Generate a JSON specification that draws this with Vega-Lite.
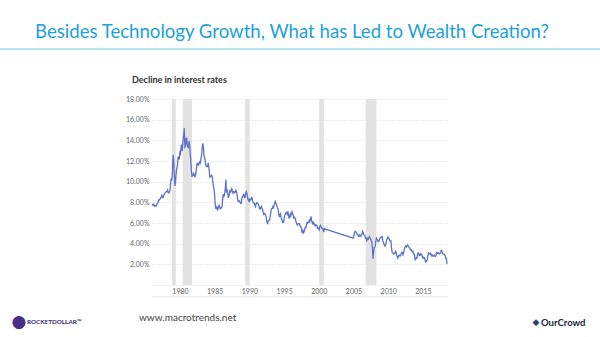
{
  "$schema": "https://vega.github.io/schema/vega-lite/v6.json",
  "autosize": "none",
  "width": 296,
  "height": 186,
  "padding": {"left": 152, "top": 99, "right": 152, "bottom": 52},
  "background": "white",
  "config": {"view": {"stroke": null}, "font": "Lato"},
  "datasets": {
    "rates": [
      {"year":1977.12,"rate":7.75},{"year":1977.21,"rate":7.80},{"year":1977.29,"rate":7.73},{"year":1977.37,"rate":7.80},{"year":1977.46,"rate":7.64},{"year":1977.54,"rate":7.64},{"year":1977.62,"rate":7.68},{"year":1977.71,"rate":7.64},{"year":1977.79,"rate":7.77},{"year":1977.87,"rate":7.85},{"year":1977.96,"rate":7.94},
      {"year":1978.04,"rate":8.18},{"year":1978.12,"rate":8.25},{"year":1978.21,"rate":8.23},{"year":1978.29,"rate":8.34},{"year":1978.37,"rate":8.43},{"year":1978.46,"rate":8.50},{"year":1978.54,"rate":8.65},{"year":1978.62,"rate":8.47},{"year":1978.71,"rate":8.47},{"year":1978.79,"rate":8.69},{"year":1978.87,"rate":8.75},{"year":1978.96,"rate":8.88},
      {"year":1979.04,"rate":8.94},{"year":1979.12,"rate":9.00},{"year":1979.21,"rate":9.03},{"year":1979.29,"rate":9.08},{"year":1979.37,"rate":9.19},{"year":1979.46,"rate":8.92},{"year":1979.54,"rate":8.92},{"year":1979.62,"rate":8.97},{"year":1979.71,"rate":9.17},{"year":1979.79,"rate":9.85},{"year":1979.87,"rate":10.30},{"year":1979.96,"rate":10.12},
      {"year":1980.04,"rate":10.60},{"year":1980.12,"rate":12.20},{"year":1980.18,"rate":12.60},{"year":1980.25,"rate":11.90},{"year":1980.29,"rate":11.40},{"year":1980.37,"rate":10.36},{"year":1980.44,"rate":9.60},{"year":1980.50,"rate":9.90},{"year":1980.54,"rate":10.24},{"year":1980.62,"rate":11.00},{"year":1980.71,"rate":11.34},{"year":1980.79,"rate":11.59},{"year":1980.87,"rate":12.37},{"year":1980.96,"rate":12.40},
      {"year":1981.04,"rate":12.14},{"year":1981.12,"rate":12.80},{"year":1981.21,"rate":12.69},{"year":1981.29,"rate":13.20},{"year":1981.37,"rate":13.60},{"year":1981.46,"rate":12.96},{"year":1981.54,"rate":13.59},{"year":1981.62,"rate":14.17},{"year":1981.71,"rate":14.67},{"year":1981.76,"rate":15.20},{"year":1981.79,"rate":14.68},{"year":1981.87,"rate":13.35},{"year":1981.96,"rate":13.45},
      {"year":1982.04,"rate":14.22},{"year":1982.12,"rate":14.22},{"year":1982.21,"rate":13.53},{"year":1982.29,"rate":13.37},{"year":1982.37,"rate":13.24},{"year":1982.46,"rate":13.92},{"year":1982.54,"rate":13.55},{"year":1982.62,"rate":12.77},{"year":1982.71,"rate":12.07},{"year":1982.79,"rate":11.17},{"year":1982.87,"rate":10.54},{"year":1982.96,"rate":10.54},
      {"year":1983.04,"rate":10.63},{"year":1983.12,"rate":10.88},{"year":1983.21,"rate":10.63},{"year":1983.29,"rate":10.48},{"year":1983.37,"rate":10.53},{"year":1983.46,"rate":10.93},{"year":1983.54,"rate":11.40},{"year":1983.62,"rate":11.82},{"year":1983.71,"rate":11.63},{"year":1983.79,"rate":11.58},{"year":1983.87,"rate":11.75},{"year":1983.96,"rate":11.88},
      {"year":1984.04,"rate":11.75},{"year":1984.12,"rate":11.95},{"year":1984.21,"rate":12.38},{"year":1984.29,"rate":12.65},{"year":1984.37,"rate":13.43},{"year":1984.46,"rate":13.70},{"year":1984.54,"rate":13.21},{"year":1984.62,"rate":12.54},{"year":1984.71,"rate":12.29},{"year":1984.79,"rate":11.98},{"year":1984.87,"rate":11.56},{"year":1984.96,"rate":11.52},
      {"year":1985.04,"rate":11.45},{"year":1985.12,"rate":11.47},{"year":1985.21,"rate":11.81},{"year":1985.29,"rate":11.47},{"year":1985.37,"rate":11.05},{"year":1985.46,"rate":10.44},{"year":1985.54,"rate":10.50},{"year":1985.62,"rate":10.56},{"year":1985.71,"rate":10.61},{"year":1985.79,"rate":10.50},{"year":1985.87,"rate":10.06},{"year":1985.96,"rate":9.54},
      {"year":1986.04,"rate":9.40},{"year":1986.12,"rate":8.93},{"year":1986.21,"rate":7.96},{"year":1986.29,"rate":7.39},{"year":1986.37,"rate":7.52},{"year":1986.46,"rate":7.57},{"year":1986.54,"rate":7.27},{"year":1986.62,"rate":7.33},{"year":1986.71,"rate":7.62},{"year":1986.79,"rate":7.70},{"year":1986.87,"rate":7.52},{"year":1986.96,"rate":7.37},
      {"year":1987.04,"rate":7.39},{"year":1987.12,"rate":7.54},{"year":1987.21,"rate":7.55},{"year":1987.29,"rate":8.25},{"year":1987.37,"rate":8.78},{"year":1987.46,"rate":8.57},{"year":1987.54,"rate":8.64},{"year":1987.62,"rate":8.97},{"year":1987.71,"rate":9.59},{"year":1987.78,"rate":10.20},{"year":1987.82,"rate":9.20},{"year":1987.87,"rate":8.95},{"year":1987.96,"rate":9.12},
      {"year":1988.04,"rate":8.83},{"year":1988.12,"rate":8.43},{"year":1988.21,"rate":8.63},{"year":1988.29,"rate":8.95},{"year":1988.37,"rate":9.23},{"year":1988.46,"rate":9.00},{"year":1988.54,"rate":9.14},{"year":1988.62,"rate":9.32},{"year":1988.71,"rate":9.06},{"year":1988.79,"rate":8.89},{"year":1988.87,"rate":9.02},{"year":1988.96,"rate":9.01},
      {"year":1989.04,"rate":8.93},{"year":1989.12,"rate":9.01},{"year":1989.21,"rate":9.17},{"year":1989.29,"rate":9.03},{"year":1989.37,"rate":8.83},{"year":1989.46,"rate":8.27},{"year":1989.54,"rate":8.08},{"year":1989.62,"rate":8.12},{"year":1989.71,"rate":8.15},{"year":1989.79,"rate":8.00},{"year":1989.87,"rate":7.90},{"year":1989.96,"rate":7.90},
      {"year":1990.04,"rate":8.26},{"year":1990.12,"rate":8.50},{"year":1990.21,"rate":8.56},{"year":1990.29,"rate":8.76},{"year":1990.37,"rate":8.73},{"year":1990.46,"rate":8.46},{"year":1990.54,"rate":8.50},{"year":1990.62,"rate":8.86},{"year":1990.71,"rate":9.03},{"year":1990.79,"rate":8.86},{"year":1990.87,"rate":8.54},{"year":1990.96,"rate":8.24},
      {"year":1991.04,"rate":8.27},{"year":1991.12,"rate":8.03},{"year":1991.21,"rate":8.29},{"year":1991.29,"rate":8.21},{"year":1991.37,"rate":8.27},{"year":1991.46,"rate":8.47},{"year":1991.54,"rate":8.45},{"year":1991.62,"rate":8.14},{"year":1991.71,"rate":7.95},{"year":1991.79,"rate":7.93},{"year":1991.87,"rate":7.92},{"year":1991.96,"rate":7.70},
      {"year":1992.04,"rate":7.58},{"year":1992.12,"rate":7.85},{"year":1992.21,"rate":7.97},{"year":1992.29,"rate":7.96},{"year":1992.37,"rate":7.89},{"year":1992.46,"rate":7.84},{"year":1992.54,"rate":7.60},{"year":1992.62,"rate":7.39},{"year":1992.71,"rate":7.34},{"year":1992.79,"rate":7.53},{"year":1992.87,"rate":7.61},{"year":1992.96,"rate":7.44},
      {"year":1993.04,"rate":7.34},{"year":1993.12,"rate":7.09},{"year":1993.21,"rate":6.82},{"year":1993.29,"rate":6.85},{"year":1993.37,"rate":6.92},{"year":1993.46,"rate":6.81},{"year":1993.54,"rate":6.63},{"year":1993.62,"rate":6.32},{"year":1993.71,"rate":6.00},{"year":1993.79,"rate":5.94},{"year":1993.87,"rate":6.21},{"year":1993.96,"rate":6.25},
      {"year":1994.04,"rate":6.29},{"year":1994.12,"rate":6.49},{"year":1994.21,"rate":6.91},{"year":1994.29,"rate":7.27},{"year":1994.37,"rate":7.41},{"year":1994.46,"rate":7.40},{"year":1994.54,"rate":7.58},{"year":1994.62,"rate":7.49},{"year":1994.71,"rate":7.71},{"year":1994.79,"rate":7.94},{"year":1994.87,"rate":8.08},{"year":1994.96,"rate":7.87},
      {"year":1995.04,"rate":7.85},{"year":1995.12,"rate":7.61},{"year":1995.21,"rate":7.45},{"year":1995.29,"rate":7.36},{"year":1995.37,"rate":6.95},{"year":1995.46,"rate":6.57},{"year":1995.54,"rate":6.72},{"year":1995.62,"rate":6.86},{"year":1995.71,"rate":6.55},{"year":1995.79,"rate":6.37},{"year":1995.87,"rate":6.26},{"year":1995.96,"rate":6.06},
      {"year":1996.04,"rate":6.05},{"year":1996.12,"rate":6.24},{"year":1996.21,"rate":6.60},{"year":1996.29,"rate":6.79},{"year":1996.37,"rate":6.93},{"year":1996.46,"rate":7.06},{"year":1996.54,"rate":7.03},{"year":1996.62,"rate":6.84},{"year":1996.71,"rate":7.03},{"year":1996.79,"rate":6.81},{"year":1996.87,"rate":6.48},{"year":1996.96,"rate":6.55},
      {"year":1997.04,"rate":6.83},{"year":1997.12,"rate":6.69},{"year":1997.21,"rate":6.93},{"year":1997.29,"rate":7.09},{"year":1997.37,"rate":6.94},{"year":1997.46,"rate":6.77},{"year":1997.54,"rate":6.51},{"year":1997.62,"rate":6.58},{"year":1997.71,"rate":6.50},{"year":1997.79,"rate":6.33},{"year":1997.87,"rate":6.11},{"year":1997.96,"rate":5.99},
      {"year":1998.04,"rate":5.81},{"year":1998.12,"rate":5.89},{"year":1998.21,"rate":5.95},{"year":1998.29,"rate":5.92},{"year":1998.37,"rate":5.93},{"year":1998.46,"rate":5.70},{"year":1998.54,"rate":5.68},{"year":1998.62,"rate":5.54},{"year":1998.71,"rate":5.20},{"year":1998.79,"rate":5.01},{"year":1998.87,"rate":5.25},{"year":1998.96,"rate":5.06},
      {"year":1999.04,"rate":5.16},{"year":1999.12,"rate":5.37},{"year":1999.21,"rate":5.58},{"year":1999.29,"rate":5.55},{"year":1999.37,"rate":5.81},{"year":1999.46,"rate":6.04},{"year":1999.54,"rate":5.98},{"year":1999.62,"rate":6.07},{"year":1999.71,"rate":6.07},{"year":1999.79,"rate":6.26},{"year":1999.87,"rate":6.15},{"year":1999.96,"rate":6.35},
      {"year":2000.04,"rate":6.63},{"year":2000.12,"rate":6.23},{"year":2000.21,"rate":6.05},{"year":2000.29,"rate":5.85},{"year":2000.37,"rate":6.15},{"year":2000.46,"rate":5.93},{"year":2000.54,"rate":5.85},{"year":2000.62,"rate":5.72},{"year":2000.71,"rate":5.83},{"year":2000.79,"rate":5.80},{"year":2000.87,"rate":5.78},{"year":2000.96,"rate":5.49},
      {"year":2001.04,"rate":5.54},{"year":2001.12,"rate":5.45},{"year":2001.21,"rate":5.34},{"year":2001.29,"rate":5.65},{"year":2001.37,"rate":5.78},{"year":2001.46,"rate":5.67},{"year":2001.54,"rate":5.61},{"year":2001.62,"rate":5.48},{"year":2001.71,"rate":5.48},{"year":2001.79,"rate":5.32},{"year":2001.87,"rate":5.12},{"year":2001.96,"rate":5.48},
      {"year":2002.04,"rate":5.45},{"year":2002.12,"rate":5.40},
      {"year":2006.12,"rate":4.54},{"year":2006.21,"rate":4.73},{"year":2006.29,"rate":5.06},{"year":2006.37,"rate":5.20},{"year":2006.46,"rate":5.15},{"year":2006.54,"rate":5.13},{"year":2006.62,"rate":5.00},{"year":2006.71,"rate":4.85},{"year":2006.79,"rate":4.85},{"year":2006.87,"rate":4.69},{"year":2006.96,"rate":4.68},
      {"year":2007.04,"rate":4.85},{"year":2007.12,"rate":4.82},{"year":2007.21,"rate":4.72},{"year":2007.29,"rate":4.87},{"year":2007.37,"rate":4.90},{"year":2007.46,"rate":5.20},{"year":2007.54,"rate":5.11},{"year":2007.62,"rate":4.93},{"year":2007.71,"rate":4.79},{"year":2007.79,"rate":4.77},{"year":2007.87,"rate":4.52},{"year":2007.96,"rate":4.53},
      {"year":2008.04,"rate":4.33},{"year":2008.12,"rate":4.52},{"year":2008.21,"rate":4.39},{"year":2008.29,"rate":4.44},{"year":2008.37,"rate":4.60},{"year":2008.46,"rate":4.69},{"year":2008.54,"rate":4.57},{"year":2008.62,"rate":4.50},{"year":2008.71,"rate":4.27},{"year":2008.79,"rate":4.17},{"year":2008.87,"rate":3.70},{"year":2008.96,"rate":2.55},
      {"year":2009.04,"rate":3.13},{"year":2009.12,"rate":3.59},{"year":2009.21,"rate":3.64},{"year":2009.29,"rate":3.76},{"year":2009.37,"rate":4.23},{"year":2009.46,"rate":4.52},{"year":2009.54,"rate":4.41},{"year":2009.62,"rate":4.37},{"year":2009.71,"rate":4.19},{"year":2009.79,"rate":4.19},{"year":2009.87,"rate":4.31},{"year":2009.96,"rate":4.49},
      {"year":2010.04,"rate":4.60},{"year":2010.12,"rate":4.62},{"year":2010.21,"rate":4.64},{"year":2010.29,"rate":4.69},{"year":2010.37,"rate":4.29},{"year":2010.46,"rate":4.13},{"year":2010.54,"rate":3.99},{"year":2010.62,"rate":3.80},{"year":2010.71,"rate":3.77},{"year":2010.79,"rate":3.87},{"year":2010.87,"rate":4.19},{"year":2010.96,"rate":4.42},
      {"year":2011.04,"rate":4.52},{"year":2011.12,"rate":4.65},{"year":2011.21,"rate":4.51},{"year":2011.29,"rate":4.50},{"year":2011.37,"rate":4.29},{"year":2011.46,"rate":4.23},{"year":2011.54,"rate":4.27},{"year":2011.62,"rate":3.65},{"year":2011.71,"rate":3.18},{"year":2011.79,"rate":3.13},{"year":2011.87,"rate":3.02},{"year":2011.96,"rate":2.98},
      {"year":2012.04,"rate":3.03},{"year":2012.12,"rate":3.11},{"year":2012.21,"rate":3.28},{"year":2012.29,"rate":3.18},{"year":2012.37,"rate":2.93},{"year":2012.46,"rate":2.70},{"year":2012.54,"rate":2.59},{"year":2012.62,"rate":2.77},{"year":2012.71,"rate":2.88},{"year":2012.79,"rate":2.90},{"year":2012.87,"rate":2.80},{"year":2012.96,"rate":2.88},
      {"year":2013.04,"rate":3.08},{"year":2013.12,"rate":3.17},{"year":2013.21,"rate":3.16},{"year":2013.29,"rate":2.93},{"year":2013.37,"rate":3.11},{"year":2013.46,"rate":3.40},{"year":2013.54,"rate":3.61},{"year":2013.62,"rate":3.76},{"year":2013.71,"rate":3.79},{"year":2013.79,"rate":3.68},{"year":2013.87,"rate":3.80},{"year":2013.96,"rate":3.89},
      {"year":2014.04,"rate":3.77},{"year":2014.12,"rate":3.66},{"year":2014.21,"rate":3.62},{"year":2014.29,"rate":3.52},{"year":2014.37,"rate":3.39},{"year":2014.46,"rate":3.42},{"year":2014.54,"rate":3.33},{"year":2014.62,"rate":3.20},{"year":2014.71,"rate":3.26},{"year":2014.79,"rate":3.04},{"year":2014.87,"rate":3.04},{"year":2014.96,"rate":2.83},
      {"year":2015.04,"rate":2.46},{"year":2015.12,"rate":2.57},{"year":2015.21,"rate":2.63},{"year":2015.29,"rate":2.59},{"year":2015.37,"rate":2.96},{"year":2015.46,"rate":3.11},{"year":2015.54,"rate":3.07},{"year":2015.62,"rate":2.86},{"year":2015.71,"rate":2.95},{"year":2015.79,"rate":2.89},{"year":2015.87,"rate":3.03},{"year":2015.96,"rate":2.97},
      {"year":2016.04,"rate":2.86},{"year":2016.12,"rate":2.62},{"year":2016.21,"rate":2.68},{"year":2016.29,"rate":2.62},{"year":2016.37,"rate":2.63},{"year":2016.46,"rate":2.45},{"year":2016.54,"rate":2.23},{"year":2016.62,"rate":2.26},{"year":2016.71,"rate":2.35},{"year":2016.79,"rate":2.50},{"year":2016.87,"rate":2.86},{"year":2016.96,"rate":3.11},
      {"year":2017.04,"rate":3.02},{"year":2017.12,"rate":3.03},{"year":2017.21,"rate":3.08},{"year":2017.29,"rate":2.94},{"year":2017.37,"rate":2.96},{"year":2017.46,"rate":2.80},{"year":2017.54,"rate":2.88},{"year":2017.62,"rate":2.80},{"year":2017.71,"rate":2.78},{"year":2017.79,"rate":2.88},{"year":2017.87,"rate":2.80},{"year":2017.96,"rate":2.77},
      {"year":2018.04,"rate":2.88},{"year":2018.12,"rate":3.13},{"year":2018.21,"rate":3.09},{"year":2018.29,"rate":3.07},{"year":2018.37,"rate":3.13},{"year":2018.46,"rate":3.05},{"year":2018.54,"rate":3.01},{"year":2018.62,"rate":3.04},{"year":2018.71,"rate":3.15},{"year":2018.79,"rate":3.34},{"year":2018.87,"rate":3.36},{"year":2018.96,"rate":3.10},
      {"year":2019.04,"rate":3.04},{"year":2019.12,"rate":3.02},{"year":2019.21,"rate":2.98},{"year":2019.29,"rate":2.94},{"year":2019.37,"rate":2.82},{"year":2019.46,"rate":2.57},{"year":2019.54,"rate":2.57},{"year":2019.62,"rate":2.12},{"year":2019.70,"rate":2.16}
    ],
    "recessions": [
      {"start":1980.0,"end":1980.55},
      {"start":1981.54,"end":1982.88},
      {"start":1990.54,"end":1991.21},
      {"start":2001.21,"end":2001.88},
      {"start":2007.92,"end":2009.46}
    ]
  },
  "layer": [
    {
      "data": {"name": "recessions"},
      "mark": {"type": "rect", "color": "#e2e2e2"},
      "encoding": {
        "x": {"field": "start", "type": "quantitative"},
        "x2": {"field": "end"},
        "y": {"datum": 0, "type": "quantitative"},
        "y2": {"datum": 18}
      }
    },
    {
      "data": {"name": "rates"},
      "mark": {"type": "line", "color": "#5a72c8", "strokeWidth": 1.3},
      "encoding": {
        "x": {"field": "year", "type": "quantitative",
              "scale": {"domain": [1977.12, 2019.77], "nice": false, "zero": false},
              "axis": {"values": [1980, 1985, 1990, 1995, 2000, 2005, 2010, 2015], "format": "d", "title": null,
                       "labelOffset": 8, "labelPadding": 2, "labelFontSize": 7, "labelColor": "#666666",
                       "labelOverlap": false, "ticks": false, "domain": false, "grid": false, "labelFont": "Lato"}},
        "y": {"field": "rate", "type": "quantitative",
              "scale": {"domain": [0, 18], "nice": false},
              "axis": {"values": [0, 2, 4, 6, 8, 10, 12, 14, 16, 18], "tickCount": 10, "title": null,
                       "labelExpr": "datum.value == 0 ? '' : format(datum.value, '.2f') + '%'",
                       "labelOverlap": false, "labelBound": false,
                       "labelFontSize": 7, "labelColor": "#666666", "labelPadding": 3, "labelFont": "Lato",
                       "ticks": false, "domain": false, "grid": true, "gridColor": "#cfcfcf",
                       "gridDash": [1, 2], "gridWidth": 0.8}}
      }
    },
    {
      "data": {"values": [{"level": -1.15}]},
      "mark": {"type": "rule", "color": "#e3e3e3", "strokeWidth": 1},
      "encoding": {"y": {"field": "level", "type": "quantitative"}}
    },
    {
      "data": {"values": [{"t": "Besides Technology Growth, What has Led to Wealth Creation?"}]},
      "mark": {"type": "text", "x": -117, "y": -67, "align": "left", "baseline": "middle", "fontSize": 18.6, "font": "Lato", "color": "#1ba1d9"},
      "encoding": {"text": {"field": "t"}}
    },
    {
      "data": {"values": [{"a": 0}]},
      "mark": {"type": "rule", "color": "#6cc4d8", "strokeWidth": 1},
      "encoding": {"x": {"value": -152}, "x2": {"value": 448}, "y": {"value": -50}}
    },
    {
      "data": {"values": [{"t": "Decline in interest rates"}]},
      "mark": {"type": "text", "x": -20, "y": -19, "align": "left", "baseline": "middle", "fontSize": 9, "fontWeight": "bold", "font": "Lato", "color": "#333333"},
      "encoding": {"text": {"field": "t"}}
    },
    {
      "data": {"values": [{"t": "www.macrotrends.net"}]},
      "mark": {"type": "text", "x": -13, "y": 219, "align": "left", "baseline": "middle", "fontSize": 10, "font": "Lato", "color": "#444444"},
      "encoding": {"text": {"field": "t"}}
    },
    {
      "data": {"values": [{"t": "●"}]},
      "mark": {"type": "text", "x": -133, "y": 223, "align": "center", "baseline": "middle", "fontSize": 17, "font": "DejaVu Sans", "color": "#4a2f86"},
      "encoding": {"text": {"field": "t"}}
    },
    {
      "data": {"values": [{"t": "ROCKETDOLLAR™"}]},
      "mark": {"type": "text", "x": -125, "y": 223, "align": "left", "baseline": "middle", "fontSize": 6.3, "fontWeight": "bold", "font": "Lato", "color": "#3b2a6d"},
      "encoding": {"text": {"field": "t"}}
    },
    {
      "data": {"values": [{"t": "◆"}]},
      "mark": {"type": "text", "x": 384, "y": 223, "align": "center", "baseline": "middle", "fontSize": 9, "font": "DejaVu Sans", "color": "#2f3f7a"},
      "encoding": {"text": {"field": "t"}}
    },
    {
      "data": {"values": [{"t": "OurCrowd"}]},
      "mark": {"type": "text", "x": 389, "y": 224, "align": "left", "baseline": "middle", "fontSize": 9.5, "fontWeight": "bold", "font": "Lato", "color": "#1c2541"},
      "encoding": {"text": {"field": "t"}}
    }
  ]
}
